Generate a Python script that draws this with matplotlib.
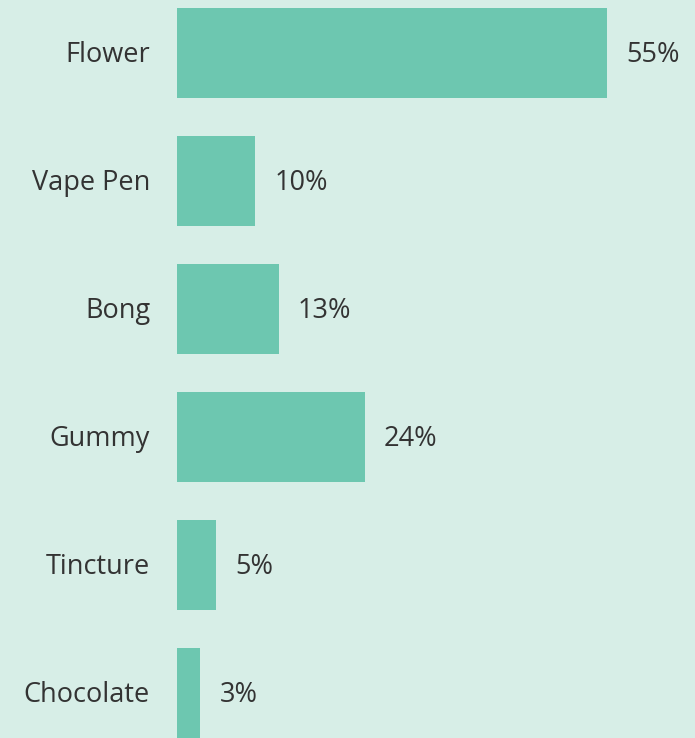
import matplotlib.pyplot as plt

categories = ["Flower", "Vape Pen", "Bong", "Gummy", "Tincture", "Chocolate"]
shares = [55, 10, 13, 24, 5, 3]
value_labels = ["55%", "10%", "13%", "24%", "5%", "3%"]

BG = "#d7eee7"
BAR = "#6dc7b0"
TEXT = "#333333"

plt.rcParams["font.family"] = ["Open Sans", "DejaVu Sans"]

fig = plt.figure(figsize=(6.95, 7.38), dpi=100, facecolor=BG)
ax = fig.add_axes([177 / 695, 0, 518 / 695, 1])
ax.set_facecolor(BG)

ypos = list(range(len(categories)))
ax.barh(ypos, shares, height=0.70, color=BAR)

ax.set_xlim(0, 66.26)
ax.set_ylim(5.352, -0.414)

for y, name in zip(ypos, categories):
    ax.annotate(name, (0, y), xytext=(-27, -2), textcoords="offset pixels",
                ha="right", va="center", fontsize=19.5, color=TEXT)
for y, v, lab in zip(ypos, shares, value_labels):
    ax.annotate(lab, (v, y), xytext=(19, -2), textcoords="offset pixels",
                ha="left", va="center", fontsize=19.5, color=TEXT)

ax.set_xticks([])
ax.set_yticks([])
for s in ax.spines.values():
    s.set_visible(False)

fig.savefig("out.png", dpi=100, facecolor=BG)
